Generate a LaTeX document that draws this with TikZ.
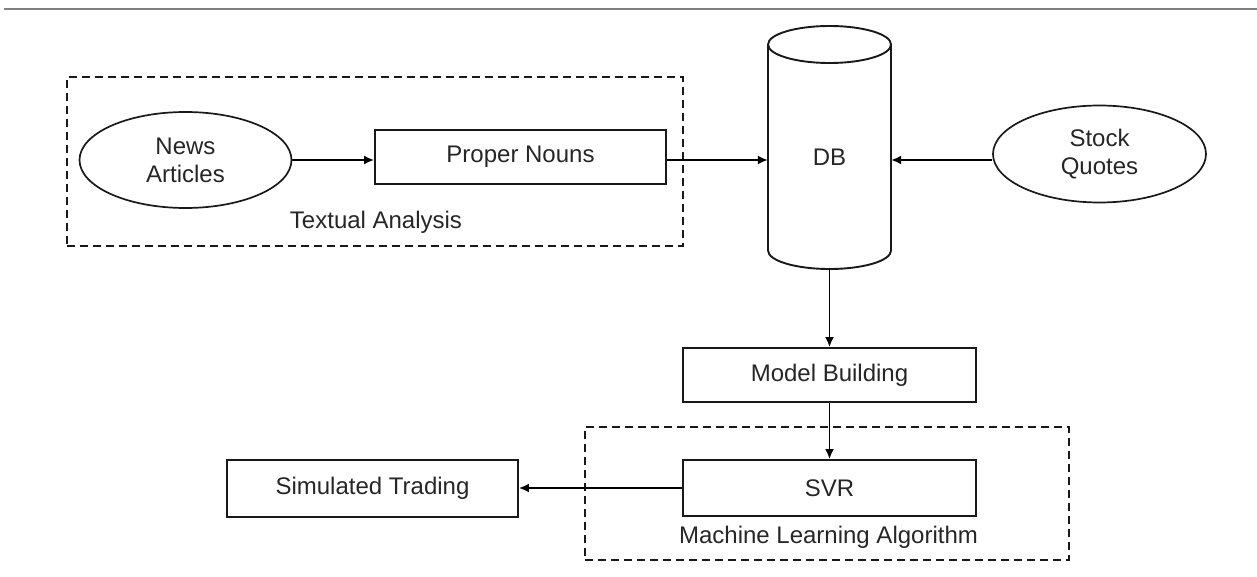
\documentclass[tikz,border=0pt]{standalone}
\usepackage{fontspec}
\setmainfont{Liberation Sans}
\usetikzlibrary{arrows.meta,shapes.geometric}
\begin{document}
\begin{tikzpicture}[x=1pt,y=-1pt,
  txt/.style={font=\fontsize{24pt}{28pt}\selectfont, text=black!85},
  box/.style={draw=black!90, line width=1.9pt, rectangle, inner sep=0pt, txt},
  oval/.style={draw=black!90, line width=1.7pt, ellipse, inner sep=0pt, align=center, txt},
  group/.style={draw=black!90, line width=1.6pt, dash pattern=on 8pt off 5pt, rectangle, inner sep=0pt},
  arr/.style={draw=black, line width=1.8pt, -{Latex[length=10pt,width=9pt]}}
]
\useasboundingbox (0,0) rectangle (1257,577);
\draw[gray, line width=2pt] (4,9) -- (1257,9);

% groups
\node[group, minimum width=616pt, minimum height=169pt] (G1) at (375,161.5) {};
\node[group, minimum width=484pt, minimum height=133pt] (G2) at (827,493.5) {};
\node[txt] (L1) at (376,222) {Textual Analysis};
\node[txt] (L2) at (828.5,537) {Machine Learning Algorithm};

% nodes
\node[oval, minimum width=212pt, minimum height=96pt] (NA) at (185.5,160) {News\\Articles};
\node[oval, minimum width=213pt, minimum height=97pt] (SQ) at (1099.5,154) {Stock\\Quotes};
\node[box, minimum width=291pt, minimum height=54pt] (PN) at (520.5,157) {Proper Nouns};
\node[box, minimum width=293pt, minimum height=54pt] (MB) at (829.5,375) {Model Building};
\node[box, minimum width=293pt, minimum height=56pt] (SVR) at (829.5,488) {SVR};
\node[box, minimum width=291pt, minimum height=57pt] (ST) at (372.5,488.5) {Simulated Trading};

% database cylinder
\node[inner sep=0pt, minimum width=123pt, minimum height=243pt] (DB) at (829.5,147.5) {};
\node[txt] (DBL) at (829.5,157) {DB};
\draw[draw=black!90, line width=1.9pt] (829.5,44.5) ellipse [x radius=61.5pt, y radius=18.5pt];
\draw[draw=black!90, line width=1.9pt] (768,44.5) -- (768,250.5)
  arc[start angle=180, end angle=360, x radius=61.5pt, y radius=18.5pt] -- (891,44.5);

% connectors
\draw[arr] (NA.east) -- (NA.east -| PN.west);
\draw[arr] (PN.east |- NA.east) -- (NA.east -| DB.west);
\draw[arr] (SQ.west |- NA.east) -- (NA.east -| DB.east);
\draw[arr] (DB.south) -- (MB.north);
\draw[arr] (MB.south) -- (SVR.north);
\draw[arr] (SVR.west) -- (SVR.west -| ST.east);
\end{tikzpicture}
\end{document}
